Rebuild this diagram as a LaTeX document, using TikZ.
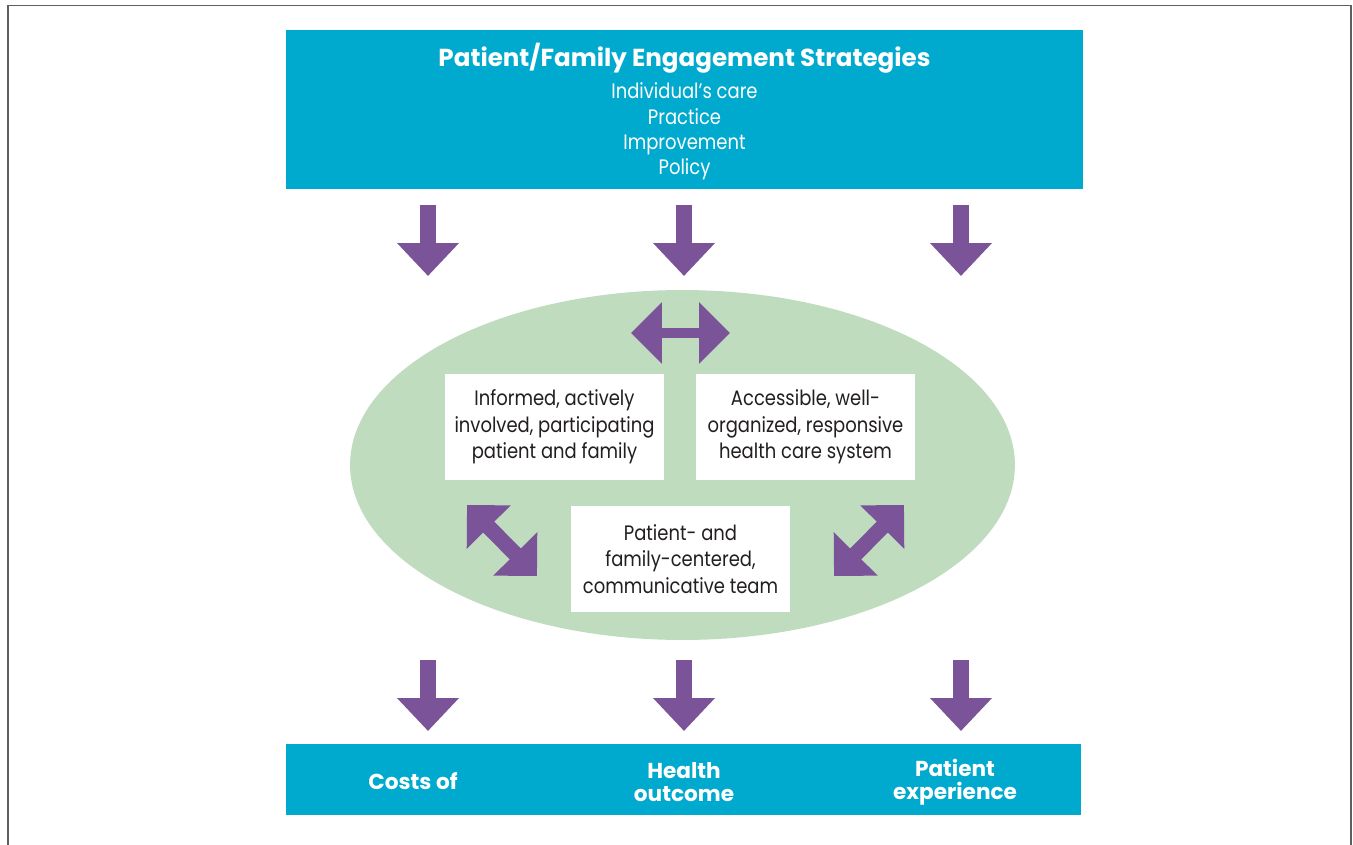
\documentclass[tikz,border=0pt]{standalone}
\usepackage{fontspec}
\setmainfont{Poppins}[FakeStretch=0.86]
\newfontfamily\headfont{Poppins}
\usepackage{xcolor}
\usepackage{tikz}
\usetikzlibrary{arrows.meta}
\definecolor{engblue}{RGB}{0,170,207}
\definecolor{engpurple}{RGB}{123,83,152}
\definecolor{enggreen}{RGB}{191,220,191}
\definecolor{enggray}{RGB}{95,95,95}
\definecolor{engtext}{RGB}{35,31,32}
\tikzset{
	bluebox/.style={fill=engblue, inner sep=0pt},
	whitebox/.style={fill=white, minimum width=4.38cm, minimum height=2.12cm, inner sep=0pt,
		align=center, text=engtext, font=\fontsize{11.9}{15}\selectfont},
	headtext/.style={text=white, align=center, font=\headfont\bfseries\fontsize{14}{15}\selectfont},
	outtext/.style={text=white, align=center, font=\headfont\bfseries\fontsize{12.3}{13}\selectfont},
	downarrow/.style={engpurple, line width=0.31cm, -{Triangle[width=1.2cm,length=0.66cm]}},
	twoway/.style={engpurple, line width=#1, {Triangle[width=1.2cm,length=0.62cm]}-{Triangle[width=1.2cm,length=0.62cm]}},
}
\begin{document}
\begin{tikzpicture}[x=0.02cm,y=-0.02cm]
				\useasboundingbox (0,0) rectangle (1353,845);
				% frame
				\draw[enggray, line width=0.04cm] (8,845) -- (8,5.5) -- (1351,5.5) -- (1351,845);
				
				% strategies
				\node[bluebox, minimum width=15.94cm, minimum height=3.18cm] (strat) at (684.5,109.5) {};
				\node[headtext] (title) at (684.5,58) {Patient/Family Engagement Strategies};
				\node[text=white, align=center, font=\fontsize{11.9}{14.4}\selectfont] (levels) at (684.5,131.5)
					{Individual’s care\\Practice\\Improvement\\Policy};
				
				% outcomes
				\node[bluebox, minimum width=15.9cm, minimum height=1.42cm] (outc) at (683.5,779.5) {};
				\node[outtext] (costs) at (413,781) {Costs of};
				\node[outtext] (health) at (684,782.5) {Health\\outcome};
				\node[outtext] (exper) at (955,782.5) {Patient\\experience};
				
				% ellipse with the three partners
				\fill[enggreen] (682.5,465) ellipse [x radius=6.65cm, y radius=3.5cm];
				\node[whitebox] (pat) at (554.5,427) {Informed, actively\\involved, participating\\patient and family};
				\node[whitebox] (sys) at (805.5,427) {Accessible, well-\\organized, responsive\\health care system};
				\node[whitebox] (team) at (680.5,559) {Patient- and\\family-centered,\\communicative team};
				
				% arrows in and out
				\foreach \x/\y in
				{1/428, 2/684, 3/961}{
					\coordinate(in\x) at (\y,205);
					\coordinate(inTip\x) at (\y,276);
					\coordinate(out\x) at (\y,660);
					\coordinate(outTip\x) at (\y,731);
					\draw[downarrow] (in\x)--(inTip\x);
					\draw[downarrow] (out\x)--(outTip\x);
				}
				
				% two-way arrows
				\coordinate(patSys) at (631,333);
				\coordinate(sysPat) at (730,333);
				\coordinate(patTeam) at (467,505);
				\coordinate(teamPat) at (537,576);
				\coordinate(sysTeam) at (904,505);
				\coordinate(teamSys) at (834,576);
				\draw[twoway=0.2cm] (patSys)--(sysPat);
				\draw[twoway=0.31cm] (patTeam)--(teamPat);
				\draw[twoway=0.31cm] (sysTeam)--(teamSys);
			\end{tikzpicture}
\end{document}
